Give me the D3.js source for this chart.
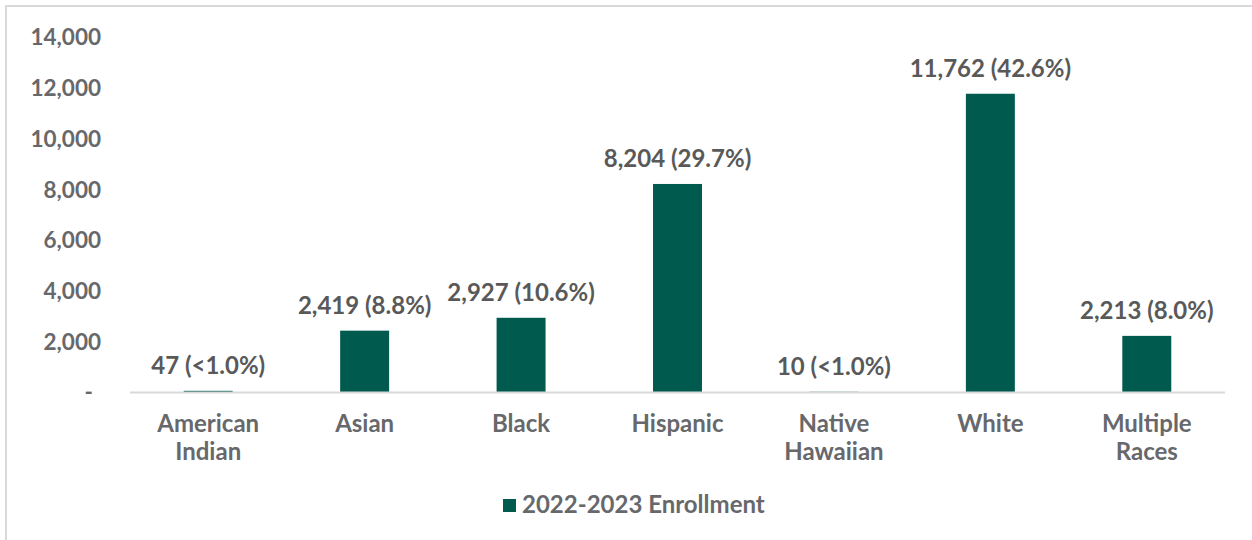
<!DOCTYPE html>
<html>
<head>
<meta charset="utf-8">
<script src="https://cdn.jsdelivr.net/npm/d3@7"></script>
<style>
  html, body { margin: 0; padding: 0; background: #ffffff; }
  svg { display: block; font-family: Lato, "Open Sans", sans-serif; font-weight: 700; }
</style>
</head>
<body>
<svg id="chart" width="1252" height="540"></svg>
<script>
// Enrollment by race/ethnicity, 2022-2023
const categories = [["American", "Indian"], ["Asian"], ["Black"], ["Hispanic"], ["Native", "Hawaiian"], ["White"], ["Multiple", "Races"]];
const enrollment = [47, 2419, 2927, 8204, 10, 11762, 2213];
const shareLabels = ["<1.0%", "8.8%", "10.6%", "29.7%", "<1.0%", "42.6%", "8.0%"];
const yTicks = [0, 2000, 4000, 6000, 8000, 10000, 12000, 14000];
const seriesName = "2022-2023 Enrollment";

const barColor = "#005a4e";
const textColor = "#595959";
const tickColor = "#67686b";

const svg = d3.select("#chart");
const W = 1252, H = 540;
const margin = { left: 130, right: 27, top: 37, bottom: 148 };

// outer frame (only top and left edges fall inside the canvas)
svg.append("rect")
  .attr("x", 6).attr("y", 6)
  .attr("width", W + 20).attr("height", H + 20)
  .attr("fill", "none")
  .attr("stroke", "#d9d9d9")
  .attr("stroke-width", 2);

const x = d3.scaleBand()
  .domain(d3.range(categories.length))
  .range([margin.left, W - margin.right])
  .paddingInner(0.687)
  .paddingOuter(0.3435);

const y = d3.scaleLinear()
  .domain([0, 14000])
  .range([H - margin.bottom, margin.top]);

// y axis labels (no line, no ticks)
const fmt = d3.format(",");
const yAxis = d3.axisLeft(y)
  .tickValues(yTicks)
  .tickSize(0)
  .tickPadding(0)
  .tickFormat(d => d === 0 ? "-" : fmt(d));

const yG = svg.append("g")
  .attr("transform", `translate(101,0)`)
  .call(yAxis);
yG.select(".domain").remove();
yG.selectAll("text")
  .attr("fill", tickColor)
  .attr("font-size", 22.5)
  .attr("font-family", "Lato, sans-serif")
  .attr("font-weight", 700)
  .attr("dy", "0.35em")
  .attr("dx", d => d === 0 ? -8 : 0);

// bars
svg.append("g")
  .selectAll("rect")
  .data(enrollment)
  .join("rect")
  .attr("x", (d, i) => x(i))
  .attr("width", x.bandwidth())
  .attr("y", d => y(d))
  .attr("height", d => y(0) - y(d))
  .attr("fill", barColor);

// baseline
svg.append("line")
  .attr("x1", margin.left).attr("x2", W - margin.right)
  .attr("y1", y(0) + 0.5).attr("y2", y(0) + 0.5)
  .attr("stroke", "#d9d9d9")
  .attr("stroke-width", 2);

// value labels
svg.append("g")
  .selectAll("text")
  .data(enrollment)
  .join("text")
  .attr("x", (d, i) => x(i) + x.bandwidth() / 2)
  .attr("y", d => y(d) - 17)
  .attr("text-anchor", "middle")
  .attr("font-size", 24)
  .attr("fill", textColor)
  .text((d, i) => `${fmt(d)} (${shareLabels[i]})`);

// category labels
const xAxis = d3.axisBottom(x).tickSize(0).tickFormat(() => "");
const xG = svg.append("g")
  .attr("transform", `translate(0,${y(0)})`)
  .call(xAxis);
xG.select(".domain").remove();
xG.selectAll(".tick").each(function(i) {
  const t = d3.select(this).append("text")
    .attr("text-anchor", "middle")
    .attr("fill", tickColor)
    .attr("font-size", 24)
    .attr("font-family", "Lato, sans-serif")
    .attr("font-weight", 700)
    .attr("y", 40);
  categories[i].forEach((line, k) => {
    t.append("tspan").attr("x", 0).attr("dy", k === 0 ? 0 : 28).text(line);
  });
});

// legend
const legend = svg.append("g").attr("transform", "translate(503,499)");
legend.append("rect")
  .attr("width", 13).attr("height", 13)
  .attr("fill", barColor);
legend.append("text")
  .attr("x", 19).attr("y", 14)
  .attr("font-size", 24)
  .attr("fill", tickColor)
  .text(seriesName);
</script>
</body>
</html>
